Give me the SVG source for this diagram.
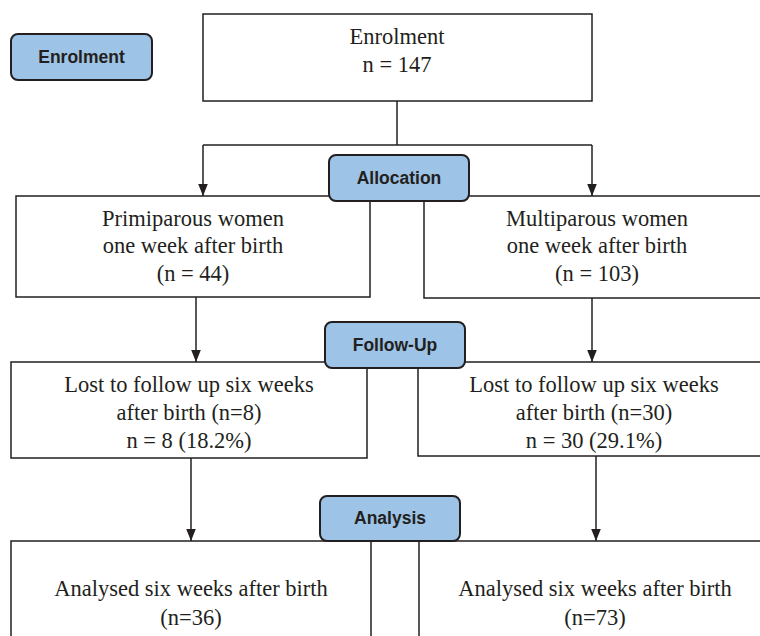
<svg xmlns="http://www.w3.org/2000/svg" width="760" height="636" viewBox="0 0 760 636">
<style>
.box{fill:#fff;stroke:#231f20;stroke-width:1.5}
.lab{fill:#9dc3e6;stroke:#231f20;stroke-width:2}
.t{font-family:"Liberation Serif","Times New Roman",serif;font-size:22.5px;fill:#231f20;text-anchor:middle}
.l{font-family:"Liberation Sans",Arial,sans-serif;font-size:17.5px;font-weight:bold;fill:#231f20;text-anchor:middle}
.c{fill:none;stroke:#231f20;stroke-width:1.5}
</style>
<defs>
<marker id="a" markerWidth="12" markerHeight="15" refX="15" refY="6" orient="auto" markerUnits="userSpaceOnUse" viewBox="0 0 15 12">
<path d="M0,0 L15,6 L0,12 Z" fill="#231f20"/>
</marker>
</defs>
<g id="connectors">
<path class="c" d="M397,101 V145"/>
<path class="c" d="M203,145 H592"/>
<path class="c" d="M203,145 V196" marker-end="url(#a)"/>
<path class="c" d="M592,145 V196" marker-end="url(#a)"/>
<path class="c" d="M196,297 V362" marker-end="url(#a)"/>
<path class="c" d="M592,298 V362" marker-end="url(#a)"/>
<path class="c" d="M191,458 V541" marker-end="url(#a)"/>
<path class="c" d="M596,456 V541" marker-end="url(#a)"/>
</g>
<g id="enrolment">
<rect class="box" x="203" y="14" width="389" height="87"/>
<text class="t" x="397" y="44">Enrolment</text>
<text class="t" x="397" y="72">n = 147</text>
</g>
<g id="primiparous">
<rect class="box" x="16" y="196" width="354" height="101"/>
<text class="t" x="193" y="226">Primiparous women</text>
<text class="t" x="193" y="253">one week after birth</text>
<text class="t" x="193" y="281">(n = 44)</text>
</g>
<g id="multiparous">
<rect class="box" x="424" y="196" width="345" height="102"/>
<text class="t" x="597" y="226">Multiparous women</text>
<text class="t" x="597" y="253">one week after birth</text>
<text class="t" x="597" y="281">(n = 103)</text>
</g>
<g id="lost-primiparous">
<rect class="box" x="11" y="362" width="356" height="96"/>
<text class="t" x="189" y="392">Lost to follow up six weeks</text>
<text class="t" x="189" y="420">after birth (n=8)</text>
<text class="t" x="189" y="448">n = 8 (18.2%)</text>
</g>
<g id="lost-multiparous">
<rect class="box" x="418" y="362" width="351" height="94"/>
<text class="t" x="594" y="392">Lost to follow up six weeks</text>
<text class="t" x="594" y="420">after birth (n=30)</text>
<text class="t" x="594" y="448">n = 30 (29.1%)</text>
</g>
<g id="analysed-primiparous">
<rect class="box" x="11" y="541" width="360" height="110"/>
<text class="t" x="191" y="596">Analysed six weeks after birth</text>
<text class="t" x="191" y="625">(n=36)</text>
</g>
<g id="analysed-multiparous">
<rect class="box" x="419" y="541" width="350" height="110"/>
<text class="t" x="595" y="596">Analysed six weeks after birth</text>
<text class="t" x="595" y="625">(n=73)</text>
</g>
<g id="label-enrolment">
<rect class="lab" x="11" y="34" width="141" height="46" rx="7"/>
<text class="l" x="81.5" y="63">Enrolment</text>
</g>
<g id="label-allocation">
<rect class="lab" x="329" y="155" width="140" height="46" rx="7"/>
<text class="l" x="399" y="184">Allocation</text>
</g>
<g id="label-followup">
<rect class="lab" x="325" y="322" width="140" height="46" rx="7"/>
<text class="l" x="395" y="351">Follow-Up</text>
</g>
<g id="label-analysis">
<rect class="lab" x="320" y="496" width="140" height="45" rx="7"/>
<text class="l" x="390" y="524">Analysis</text>
</g>
</svg>
